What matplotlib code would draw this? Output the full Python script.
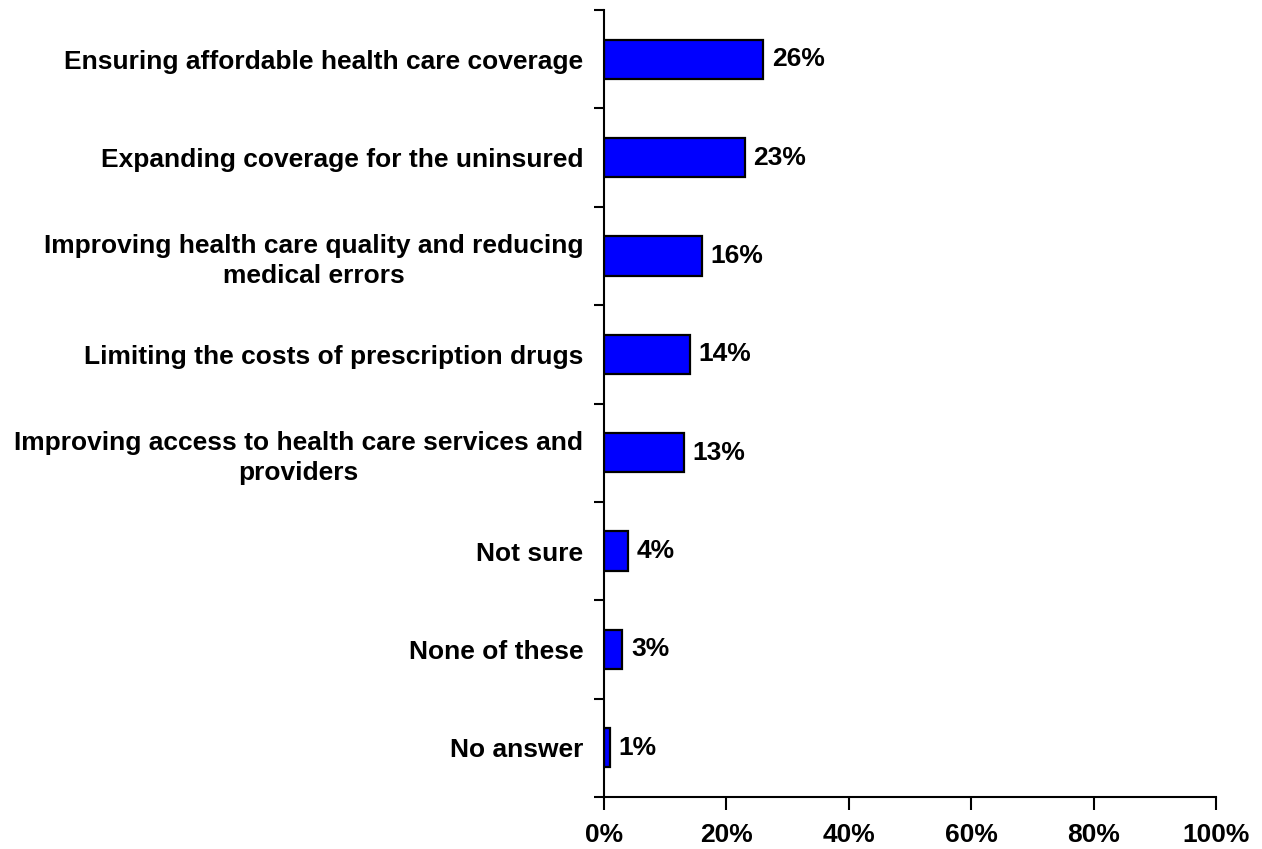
import numpy as np
import matplotlib.pyplot as plt

categories = [
    "Ensuring affordable health care coverage",
    "Expanding coverage for the uninsured",
    "Improving health care quality and reducing\nmedical errors",
    "Limiting the costs of prescription drugs",
    "Improving access to health care services and\nproviders",
    "Not sure",
    "None of these",
    "No answer",
]
values = [26, 23, 16, 14, 13, 4, 3, 1]
xticks = [0, 20, 40, 60, 80, 100]

plt.rcParams['font.family'] = ['Liberation Sans', 'DejaVu Sans']
plt.rcParams['font.weight'] = 'bold'
FS = 19

fig = plt.figure(figsize=(12.62, 8.49), dpi=100)
ax = fig.add_axes([604 / 1262, 1 - 797 / 849, 612 / 1262, 787 / 849])

n = len(categories)
pos = np.arange(n)
ax.barh(pos, values, height=0.40, color='#0000FF', edgecolor='black', linewidth=1.6)

for p, v in zip(pos, values):
    ax.text(v + 1.4, p, f"{v}%", va='center', ha='left', fontsize=FS, fontweight='bold')

ax.set_xlim(0, 100)
ax.set_ylim(n - 0.5, -0.5)

# boundary ticks between categories, labels sit on minor ticks at bar centres
ax.set_yticks(np.arange(n + 1) - 0.5)
ax.set_yticklabels([])
ax.set_yticks(pos, minor=True)
ax.set_yticklabels(categories, minor=True, fontsize=FS, fontweight='bold',
                   multialignment='center', linespacing=1.3)
ax.tick_params(axis='y', which='major', length=7, width=1.5, direction='out')
ax.tick_params(axis='y', which='minor', length=0, pad=15)

ax.set_xticks(xticks)
ax.set_xticklabels([f"{t}%" for t in xticks], fontsize=FS, fontweight='bold')
ax.tick_params(axis='x', length=9, width=1.5, direction='out', pad=10)

for s in ['top', 'right']:
    ax.spines[s].set_visible(False)
for s in ['left', 'bottom']:
    ax.spines[s].set_linewidth(1.5)

fig.savefig('out.png', dpi=100)
